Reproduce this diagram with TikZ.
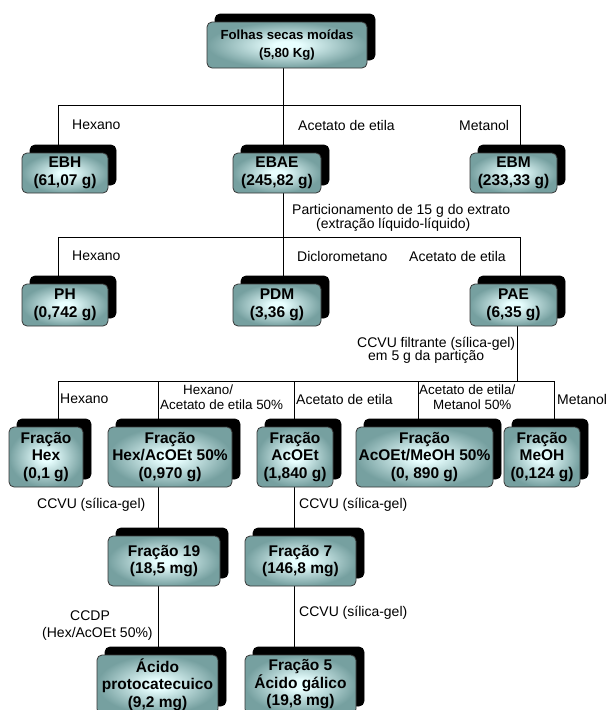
\documentclass[tikz,border=0pt]{standalone}
\usepackage{fontspec}
\setmainfont{Liberation Sans}
\usetikzlibrary{shadows,backgrounds}
\definecolor{boxout}{RGB}{118,160,160}
\definecolor{boxin}{RGB}{232,255,255}
\definecolor{boxline}{RGB}{55,55,55}
\pgfdeclareradialshading{boxshade}{\pgfpoint{0bp}{0bp}}{color(0bp)=(boxin); color(4bp)=(boxin); color(25bp)=(boxout); color(50bp)=(boxout)}
\tikzset{
  stepbox/.style={draw=boxline, line width=0.8pt, rounded corners=5pt,
    shading=boxshade,
    inner sep=0pt, align=center,
    font=\fontsize{15.5}{17.5}\selectfont\bfseries,
    general shadow={fill=black, draw=black, shadow xshift=8pt, shadow yshift=8pt}},
  lbl/.style={inner sep=0pt, anchor=west, align=left, font=\fontsize{14}{14}\selectfont},
  lblsm/.style={inner sep=0pt, anchor=west, align=left, font=\fontsize{13.4}{15}\selectfont},
  conn/.style={draw=black, line width=0.8pt},
}
\begin{document}
\begin{tikzpicture}[x=1pt, y=-1pt]
\useasboundingbox (0,0) rectangle (608,710);

% boxes
\node[stepbox, minimum width=160pt, minimum height=46pt, font=\fontsize{13.2}{18}\selectfont\bfseries] (top) at (287,45) {Folhas secas moídas\\(5,80 Kg)};

\node[stepbox, minimum width=86pt, minimum height=40pt] (ebh)  at (65,173)    {EBH\\(61,07 g)};
\node[stepbox, minimum width=88pt, minimum height=40pt] (ebae) at (277,173)   {EBAE\\(245,82 g)};
\node[stepbox, minimum width=87pt, minimum height=40pt] (ebm)  at (513.5,173) {EBM\\(233,33 g)};

\node[stepbox, minimum width=86pt, minimum height=42pt] (ph)  at (65,305)    {PH\\(0,742 g)};
\node[stepbox, minimum width=88pt, minimum height=42pt] (pdm) at (277,305)   {PDM\\(3,36 g)};
\node[stepbox, minimum width=87pt, minimum height=42pt] (pae) at (513.5,305) {PAE\\(6,35 g)};

\node[stepbox, minimum width=74pt,  minimum height=60pt] (fhex)   at (46,457)    {Fração\\Hex\\(0,1 g)};
\node[stepbox, minimum width=124pt, minimum height=60pt] (fhexac) at (170,457)   {Fração\\Hex/AcOEt 50\%\\(0,970 g)};
\node[stepbox, minimum width=76pt,  minimum height=60pt] (facoet) at (295,457)   {Fração\\AcOEt\\(1,840 g)};
\node[stepbox, minimum width=137pt, minimum height=60pt] (facme)  at (424.5,457) {Fração\\AcOEt/MeOH 50\%\\(0, 890 g)};
\node[stepbox, minimum width=76pt,  minimum height=60pt] (fmeoh)  at (542,457)   {Fração\\MeOH\\(0,124 g)};

\node[stepbox, minimum width=112pt, minimum height=50pt] (f19) at (164,561)   {Fração 19\\(18,5 mg)};
\node[stepbox, minimum width=111pt, minimum height=50pt] (f7)  at (300.5,561) {Fração 7\\(146,8 mg)};

\node[stepbox, minimum width=121pt, minimum height=59pt] (acido) at (157.5,684.5) {Ácido\\protocatecuico\\(9,2 mg)};
\node[stepbox, minimum width=111pt, minimum height=59pt] (f5)    at (300.5,684.5) {Fração 5\\Ácido gálico\\(19,8 mg)};

% connector junctions
\coordinate (r1)  at (283,105);
\coordinate (r1l) at (58,105);
\coordinate (r1r) at (520,105);
\coordinate (r2)  at (283,237);
\coordinate (r2l) at (58,237);
\coordinate (r2r) at (520,237);
\coordinate (r3)  at (517,381);
\coordinate (r3l) at (58,381);
\coordinate (r3r) at (554,381);
\coordinate (r3a) at (158,381);
\coordinate (r3b) at (294,381);
\coordinate (r3c) at (418,381);
\coordinate (c1)  at (158,520);
\coordinate (c2)  at (294,520);

\begin{pgfonlayer}{background}
\draw[conn] (top.south -| r1) -- (ebae.north -| r1);
\draw[conn] (ebh.north -| r1l) -- (r1l) -- (r1r) -- (ebm.north -| r1r);
\draw[conn] (ebae.south -| r2) -- (pdm.north -| r2);
\draw[conn] (ph.north -| r2l) -- (r2l) -- (r2r) -- (pae.north -| r2r);
\draw[conn] (pae.south -| r3) -- (r3);
\draw[conn] (fhex.north -| r3l) -- (r3l) -- (r3r) -- (fmeoh.north -| r3r);
\draw[conn] (r3a) -- (fhexac.north -| r3a);
\draw[conn] (r3b) -- (facoet.north -| r3b);
\draw[conn] (r3c) -- (facme.north -| r3c);
\draw[conn] (fhexac.south -| c1) -- (f19.north -| c1);
\draw[conn] (f19.south -| c1) -- (acido.north -| c1);
\draw[conn] (facoet.south -| c2) -- (f7.north -| c2);
\draw[conn] (f7.south -| c2) -- (f5.north -| c2);
\end{pgfonlayer}

% labels
\node[lbl] (l1a) at (72,125)  {Hexano};
\node[lbl] (l1b) at (298,125) {Acetato de etila};
\node[lbl] (l1c) at (459,125) {Metanol};
\node[lbl] (l2)  at (292,218) {Particionamento de 15 g do extrato\\\hspace*{24pt}(extração líquido-líquido)};
\node[lbl] (l2a) at (72,256)  {Hexano};
\node[lbl] (l2b) at (297,256) {Diclorometano};
\node[lbl] (l2c) at (409,256) {Acetato de etila};
\node[lbl, font=\fontsize{14}{13.5}\selectfont] (l3) at (357,350.5) {CCVU filtrante (sílica-gel)\\\hspace*{11pt}em 5 g da partição};
\node[lbl] (l3a) at (60,399)  {Hexano};
\node[lblsm] (l3b) at (160,397.5) {\hspace*{23pt}Hexano/\\Acetato de etila 50\%};
\node[lbl] (l3c) at (296,399) {Acetato de etila};
\node[lblsm] (l3d) at (419,397.5) {Acetato de etila/\\\hspace*{14pt}Metanol 50\%};
\node[lbl] (l3e) at (557,399) {Metanol};
\node[lbl] (l4a) at (37,505)  {CCVU (sílica-gel)};
\node[lbl] (l4b) at (299,505) {CCVU (sílica-gel)};
\node[lbl, font=\fontsize{14}{17}\selectfont] (l5a) at (42,625.5) {\hspace*{28pt}CCDP\\(Hex/AcOEt 50\%)};
\node[lbl] (l5b) at (299,613) {CCVU (sílica-gel)};
\end{tikzpicture}
\end{document}
